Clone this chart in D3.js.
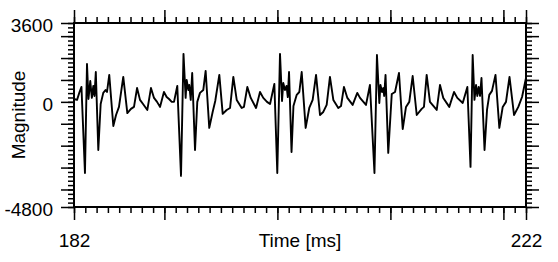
<!DOCTYPE html>
<html>
<head>
<meta charset="utf-8">
<script src="https://cdn.jsdelivr.net/npm/d3@7"></script>
<style>
  body { margin: 0; background: #fff; }
  svg { display: block; font-family: "Liberation Sans", Arial, sans-serif; }
</style>
</head>
<body>
<div class="graph"></div>
<script>
const times = [
  182.00, 182.27, 182.49, 182.66, 182.97, 183.15, 183.28, 183.44, 183.58, 183.71,
  183.81, 183.93, 184.15, 184.36, 184.59, 184.79, 184.92, 185.12, 185.48, 185.72,
  185.98, 186.36, 186.72, 187.04, 187.31, 187.58, 187.84, 188.11, 188.49, 188.81,
  189.08, 189.35, 189.61, 189.96, 190.20, 190.41, 190.65, 190.85, 191.14,
  191.47, 191.69, 191.88, 191.97, 192.12, 192.20, 192.33, 192.46, 192.71, 192.91,
  193.15, 193.44, 193.65, 193.97, 194.27, 194.50, 194.86, 195.16, 195.51, 195.81,
  196.10, 196.40, 196.84, 197.04, 197.34, 197.64, 198.11, 198.46, 198.75, 199.08,
  199.35, 199.73,
  199.99, 200.23, 200.41, 200.52, 200.67, 200.81, 200.92, 201.03, 201.25, 201.42,
  201.71, 201.94, 202.15, 202.50, 202.82, 203.12, 203.42, 203.77, 204.06, 204.36,
  204.65, 204.95, 205.39, 205.63, 205.89, 206.19, 206.66, 207.07, 207.31, 207.84,
  208.19,
  208.59, 208.81, 209.02, 209.12, 209.26, 209.37, 209.45, 209.57, 209.81, 210.12,
  210.41, 210.76, 211.09, 211.38, 211.67, 211.97, 212.33, 212.77, 212.97, 213.21,
  213.50, 214.10, 214.39, 214.68, 215.21, 215.63, 215.92, 216.40, 216.81,
  217.09, 217.28, 217.44, 217.58, 217.69, 217.81, 217.93, 218.06, 218.33, 218.55,
  218.75, 218.99, 219.30, 219.64, 219.94, 220.23, 220.54, 220.94, 221.32, 221.65,
  222.00
];
const magnitudes = [
  130, 90, 450, 680, -3250, 1730, 130, 950, 180, 730,
  270, 1360, -2200, -100, 410, 540, 450, 1230, -1100, -600,
  -230, 1140, -510, -320, -230, 630, 90, -100, -370, 630,
  180, 0, -230, 450, 220, 130, 0, 0, 730,
  -3380, 2190, 180, 1000, 540, 770, 90, 1320, -2200, 0,
  410, 540, 1410, -1190, -460, 40, 1230, -550, -370, -280,
  1140, 90, -280, -230, 680, 180, -280, 450, 180, 0,
  -100, 820,
  -3250, 2190, 40, 860, 540, 730, 220, 1360, -2290, -190,
  320, 450, 1360, -1190, -280, 90, 1230, -600, -460, -140,
  1140, 90, -280, -190, 680, 180, -140, 410, 180, -140,
  770,
  -3250, 2140, -50, 770, 450, 630, 270, 1230, -2330, 360,
  450, 1320, -1240, -230, 0, 1180, -600, -320, -230, 1230,
  0, -370, 770, 180, -230, 450, 180, -50, 680,
  -2970, 2140, 90, 770, 270, 680, 270, 1090, -2200, -370,
  320, 500, 1230, -1190, -230, 0, 1140, -600, -230, 220,
  1090
];

const xLabels = [182, 222];
const yLabels = [-4800, 0, 3600];
const xMajor = [182, 190, 200, 210, 220, 222];
const yMajor = [-4800, -4000, -3000, -2000, -1000, 0, 1000, 2000, 3000, 3600];

const width = 558, height = 262;
const m = { top: 23, right: 32, bottom: 55, left: 74 };

const x = d3.scaleLinear().domain([182, 222]).range([m.left, width - m.right]);
const y = d3.scaleLinear().domain([-4800, 3600]).range([height - m.bottom, m.top]);

const xMinor = d3.range(182, 223, 1);
const yMinor = d3.range(-4800, 3601, 200);

const svg = d3.select(".graph")
    .append("svg")
    .attr("width", width)
    .attr("height", height);

// tick marks on all four sides, outward
const sides = [
  { axis: d3.axisLeft, scale: y, t: `translate(${m.left},0)`, minor: yMinor, major: yMajor },
  { axis: d3.axisRight, scale: y, t: `translate(${width - m.right},0)`, minor: yMinor, major: yMajor },
  { axis: d3.axisTop, scale: x, t: `translate(0,${m.top})`, minor: xMinor, major: xMajor },
  { axis: d3.axisBottom, scale: x, t: `translate(0,${height - m.bottom})`, minor: xMinor, major: xMajor }
];

sides.forEach(s => {
  [[s.minor, 6], [s.major, 13]].forEach(([vals, size]) => {
    svg.append("g")
        .attr("transform", s.t)
        .call(s.axis(s.scale).tickValues(vals).tickSize(size).tickFormat(""))
        .call(g => g.select(".domain").remove())
        .call(g => g.selectAll("line").attr("stroke", "#000").attr("stroke-width", 1.5));
  });
});

// tick labels
svg.append("g")
    .attr("transform", `translate(${m.left},0)`)
    .call(d3.axisLeft(y).tickValues(yLabels).tickSize(0).tickPadding(21).tickFormat(d => String(d)))
    .call(g => g.select(".domain").remove())
    .call(g => g.selectAll("text").attr("font-size", 19).attr("fill", "#000")
        .attr("font-family", "Liberation Sans, Arial, sans-serif").attr("dy", "0.45em"));

svg.append("g")
    .attr("transform", `translate(0,${height - m.bottom})`)
    .call(d3.axisBottom(x).tickValues(xLabels).tickSize(0).tickPadding(27))
    .call(g => g.select(".domain").remove())
    .call(g => g.selectAll("text").attr("font-size", 19).attr("fill", "#000")
        .attr("font-family", "Liberation Sans, Arial, sans-serif"));

// waveform
const line = d3.line()
    .x((d, i) => x(times[i]))
    .y(d => y(d));

svg.append("path")
    .datum(magnitudes)
    .attr("d", line)
    .attr("fill", "none")
    .attr("stroke", "#000")
    .attr("stroke-width", 1.9)
    .attr("stroke-linejoin", "round");

// frame
svg.append("rect")
    .attr("x", m.left)
    .attr("y", m.top)
    .attr("width", width - m.left - m.right)
    .attr("height", height - m.top - m.bottom)
    .attr("fill", "none")
    .attr("stroke", "#000")
    .attr("stroke-width", 2);

// axis titles
svg.append("text")
    .attr("x", (m.left + width - m.right) / 2)
    .attr("y", 247)
    .attr("text-anchor", "middle")
    .attr("font-size", 19)
    .text("Time [ms]");

svg.append("text")
    .attr("transform", `translate(25,${(m.top + height - m.bottom) / 2}) rotate(-90)`)
    .attr("text-anchor", "middle")
    .attr("font-size", 19)
    .text("Magnitude");
</script>
</body>
</html>
